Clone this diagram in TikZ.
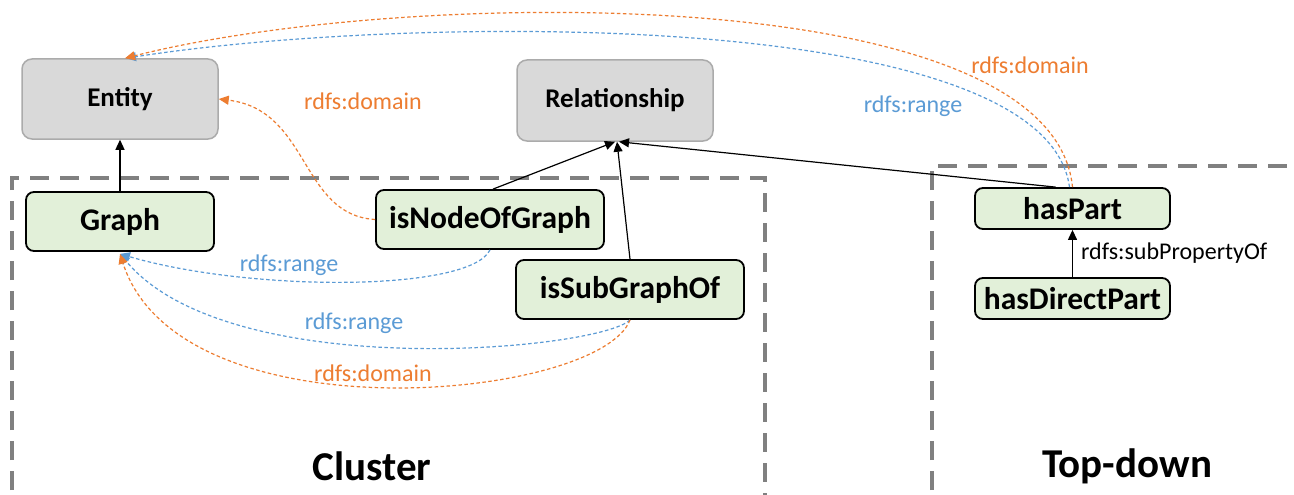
\documentclass[tikz,border=0pt]{standalone}
\usepackage{fontspec}
\setmainfont{Carlito}
\usetikzlibrary{arrows.meta}
\definecolor{orng}{HTML}{ED7D31}
\definecolor{blu}{HTML}{5B9BD5}
\definecolor{grayfill}{HTML}{D9D9D9}
\definecolor{grayline}{HTML}{ABABAB}
\definecolor{greenfill}{HTML}{E2F0D9}
\definecolor{boxline}{HTML}{808080}
\tikzset{
  classbox/.style={draw=grayline, line width=1.5pt, fill=grayfill, rounded corners=10pt, inner sep=0pt,
    font=\fontsize{27}{30}\selectfont\bfseries},
  propbox/.style={draw=black, line width=1.8pt, fill=greenfill, rounded corners=8pt, inner sep=0pt,
    font=\fontsize{31.5}{34}\selectfont\bfseries},
  groupbox/.style={draw=boxline, line width=4pt, dash pattern=on 19pt off 11pt},
  blackarrow/.style={draw=black, line width=1.2pt, -{Triangle[length=10pt,width=9pt]}},
  orangearrow/.style={draw=orng, line width=1.2pt, dash pattern=on 3.5pt off 2.5pt, -{Triangle[length=10pt,width=9pt]}},
  bluearrow/.style={draw=blu, line width=1.2pt, dash pattern=on 3.5pt off 2.5pt, -{Triangle[length=10pt,width=9pt]}},
  lbl/.style={inner sep=0pt, font=\fontsize{24}{26}\selectfont},
  grouplbl/.style={inner sep=0pt, font=\fontsize{41}{44}\selectfont\bfseries},
}
\begin{document}
\begin{tikzpicture}[x=1pt, y=-1pt]
\useasboundingbox (0,0) rectangle (1294,495);
\clip (0,0) rectangle (1294,495);
\fill[white] (0,0) rectangle (1294,495);

% group boxes
\draw[groupbox] (12,520) -- (12,178) -- (765,178) -- (765,520);
\draw[groupbox] (932,520) -- (932,166) -- (1310,166);

% nodes
\node[classbox, minimum width=196pt, minimum height=80pt] (Entity) at (120,99) {Entity};
\node[classbox, minimum width=196pt, minimum height=81pt] (Relationship) at (615,100.5) {Relationship};
\node[propbox, minimum width=188pt, minimum height=59pt] (Graph) at (120,221.5) {Graph};
\node[propbox, minimum width=228pt, minimum height=59pt] (NodeOf) at (490,219.5) {isNodeOfGraph};
\node[propbox, minimum width=228pt, minimum height=59pt] (SubOf) at (630,289.5) {isSubGraphOf};
\node[propbox, minimum width=195pt, minimum height=41pt] (hasPart) at (1072.5,208.5) {hasPart};
\node[propbox, minimum width=195pt, minimum height=41pt] (hasDirect) at (1072.5,298.5) {hasDirectPart};

% black arrows
\draw[blackarrow] (Graph.north) -- (Entity.south);
\draw[blackarrow] ([xshift=3pt]NodeOf.north) -- (Relationship.south);
\draw[blackarrow] (SubOf.north) -- ([xshift=2pt]Relationship.south);
\draw[blackarrow] ([xshift=-17pt]hasPart.north) -- ([xshift=4pt]Relationship.south);
\draw[blackarrow] (hasDirect.north) -- node[lbl, anchor=west, xshift=8pt] (subprop) {rdfs:subPropertyOf} (hasPart.south);

% top arcs
\draw[bluearrow] ([xshift=-3pt]hasPart.north) .. controls (1045,5) and (400,15) .. ([xshift=6pt]Entity.north);
\draw[orangearrow] (hasPart.north) .. controls (1052,-22) and (400,-12) .. ([xshift=5pt]Entity.north);

% domain from isNodeOfGraph to Entity
\draw[orangearrow] (NodeOf.west) .. controls (300,215) and (310,110) .. (Entity.east);

% bottom arcs
\draw[bluearrow] (NodeOf.south) .. controls (470,292) and (250,292) .. ([yshift=-2pt]Graph.south);
\draw[bluearrow] (SubOf.south) .. controls (600,350) and (230,385) .. ([yshift=-2pt]Graph.south);
\draw[orangearrow] (SubOf.south) .. controls (600,400) and (180,440) .. ([yshift=-2pt]Graph.south);

% labels
\node[lbl, text=orng] (l1) at (363,101) {rdfs:domain};
\node[lbl, text=blu] (l2) at (289,265) {rdfs:range};
\node[lbl, text=blu] (l3) at (354,323) {rdfs:range};
\node[lbl, text=orng] (l4) at (373,373) {rdfs:domain};
\node[lbl, text=orng] (l5) at (1030,65) {rdfs:domain};
\node[lbl, text=blu] (l6) at (913,106) {rdfs:range};

\node[grouplbl] (cluster) at (372,466) {Cluster};
\node[grouplbl] (topdown) at (1127,466) {Top-down};
\end{tikzpicture}
\end{document}
